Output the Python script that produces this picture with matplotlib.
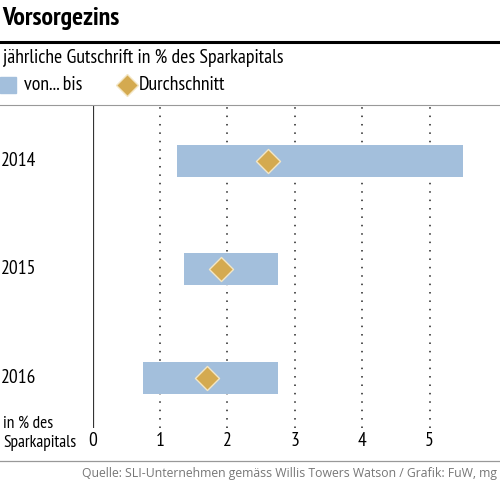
import matplotlib
matplotlib.use("Agg")
import matplotlib.pyplot as plt
from matplotlib.lines import Line2D
from matplotlib.patches import Rectangle
import matplotlib.transforms as mtrans

years = ["2014", "2015", "2016"]
low = [1.25, 1.36, 0.75]
high = [5.50, 2.75, 2.75]
avg = [2.60, 1.90, 1.70]
xticks = [0, 1, 2, 3, 4, 5]

plt.rcParams["font.family"] = ["PT Sans Narrow", "DejaVu Sans"]

BAR = "#a3bfdc"
DIA = "#d4aa50"
W, H = 500, 483
fig = plt.figure(figsize=(W / 100, H / 100), dpi=100)

def fx(px):
    return px / W

def fy(py):
    return 1 - py / H

left_px, right_px, top_px, bot_px = 92.6, 500, 105, 428
ax = fig.add_axes([fx(left_px), fy(bot_px), fx(right_px - left_px), (bot_px - top_px) / H])
ax.set_xlim(0, (right_px - left_px) / 67.4)
ax.set_ylim(2.465, -0.5115)
for s in ax.spines.values():
    s.set_visible(False)
ax.axvline(0, color="#333333", lw=1.6, zorder=1)
for t in xticks[1:]:
    ax.axvline(t, color="#222222", lw=1.1, ls=(0, (1, 4.5)), zorder=1)

ypos = list(range(len(years)))
ax.barh(ypos, [h - l for h, l in zip(high, low)], left=low, height=0.295,
        color=BAR, zorder=2)
ax.scatter(avg, ypos, marker="D", s=150, color=DIA, edgecolor="#f3e6c4",
           linewidth=1.0, zorder=3)

ax.set_yticks([])
ax.set_xticks(xticks)
ax.set_xticklabels([str(t) for t in xticks], fontsize=14)
ax.tick_params(axis="x", length=0, pad=3)

tr = mtrans.blended_transform_factory(fig.transFigure, ax.transData)
for y, lab in zip(ypos, years):
    fig.text(fx(1), y, lab, transform=tr, fontsize=14, va="center", ha="left")

fig.text(fx(2), fy(18), "Vorsorgezins", fontsize=18.5, fontweight="bold", va="center", ha="left")
fig.add_artist(Line2D([0, 1], [fy(42), fy(42)], color="black", lw=2.2))
fig.text(fx(3), fy(58), "jährliche Gutschrift in % des Sparkapitals", fontsize=14.3, va="center", ha="left")
fig.add_artist(Rectangle((fx(0), fy(93)), fx(16), 16 / H, color=BAR, transform=fig.transFigure))
fig.text(fx(24), fy(85), "von... bis", fontsize=14.3, va="center", ha="left")
fig.add_artist(Line2D([fx(127)], [fy(85)], marker="D", markersize=11, color=DIA,
                      markeredgecolor="#f3e6c4", lw=0))
fig.text(fx(139), fy(85), "Durchschnitt", fontsize=14.3, va="center", ha="left")
fig.add_artist(Line2D([0, 1], [fy(105), fy(105)], color="#999999", lw=0.8))

fig.text(fx(3), fy(424), "in % des", fontsize=12.5, va="center", ha="left")
fig.text(fx(3), fy(443), "Sparkapitals", fontsize=12.5, va="center", ha="left")
fig.add_artist(Line2D([0, 1], [fy(461), fy(461)], color="#999999", lw=0.9))
fig.text(fx(497), fy(474), "Quelle: SLI-Unternehmen gemäss Willis Towers Watson / Grafik: FuW, mg",
         fontsize=8.8, color="#777777", va="center", ha="right", family=["Open Sans", "DejaVu Sans"])

fig.savefig("out.png", dpi=100)
